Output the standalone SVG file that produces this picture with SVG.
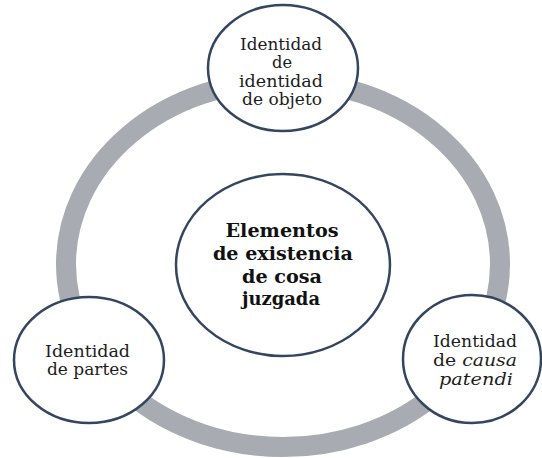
<svg xmlns="http://www.w3.org/2000/svg" width="542" height="458" viewBox="0 0 542 458">
<style>
.node{fill:#ffffff;stroke:#34465f;stroke-width:2.5}
.ring{fill:none;stroke:#a8abb2;stroke-width:20}
.t{font-family:'DejaVu Serif','Liberation Serif',serif;font-size:16px;fill:#1c1c1c;text-anchor:middle}
.b{font-family:'DejaVu Serif','Liberation Serif',serif;font-size:19px;font-weight:bold;fill:#111111;text-anchor:middle}
.i{font-style:italic}
</style>
<rect width="542" height="458" fill="#ffffff"/>
<g id="connectors">
<ellipse class="ring" cx="283" cy="264" rx="217" ry="183"/>
</g>
<g id="center">
<ellipse class="node" cx="283" cy="265" rx="107" ry="91"/>
<text class="b" x="282" y="237" textLength="113" lengthAdjust="spacingAndGlyphs">Elementos</text>
<text class="b" x="283" y="260" textLength="140" lengthAdjust="spacingAndGlyphs">de existencia</text>
<text class="b" x="282" y="283" textLength="80" lengthAdjust="spacingAndGlyphs">de cosa</text>
<text class="b" x="281" y="305" textLength="78" lengthAdjust="spacingAndGlyphs">juzgada</text>
</g>
<g id="top">
<ellipse class="node" cx="283" cy="68" rx="75" ry="63"/>
<text class="t" x="281" y="50" textLength="82" lengthAdjust="spacingAndGlyphs">Identidad</text>
<text class="t" x="282" y="68" textLength="20" lengthAdjust="spacingAndGlyphs">de</text>
<text class="t" x="281" y="87" textLength="84" lengthAdjust="spacingAndGlyphs">identidad</text>
<text class="t" x="282" y="105" textLength="80" lengthAdjust="spacingAndGlyphs">de objeto</text>
</g>
<g id="left">
<ellipse class="node" cx="89" cy="360" rx="75" ry="63"/>
<text class="t" x="87.5" y="357" textLength="85" lengthAdjust="spacingAndGlyphs">Identidad</text>
<text class="t" x="87.5" y="375" textLength="81" lengthAdjust="spacingAndGlyphs">de partes</text>
</g>
<g id="right">
<ellipse class="node" cx="472" cy="359" rx="69" ry="64"/>
<text class="t" x="475" y="347" textLength="84" lengthAdjust="spacingAndGlyphs">Identidad</text>
<text class="t" x="475" y="366" textLength="84" lengthAdjust="spacingAndGlyphs">de <tspan class="i">causa</tspan></text>
<text class="t i" x="476" y="385" textLength="74" lengthAdjust="spacingAndGlyphs">patendi</text>
</g>
</svg>
